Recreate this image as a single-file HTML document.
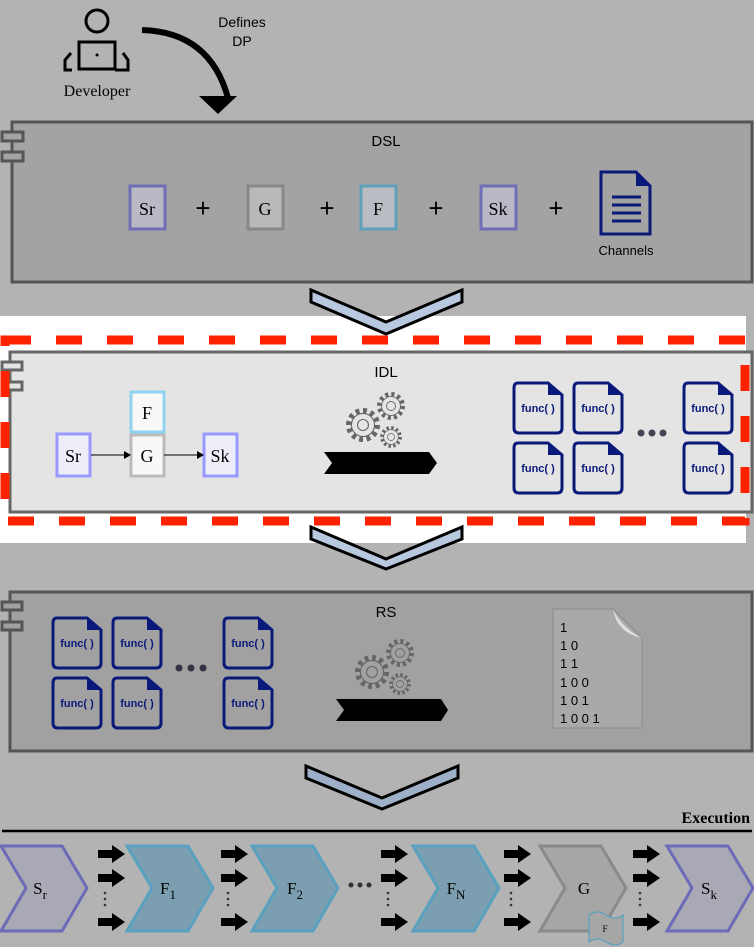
<!DOCTYPE html>
<html><head><meta charset="utf-8"><style>
html,body{margin:0;padding:0;background:#b3b3b3;}
svg{display:block;}
text{font-family:"Liberation Sans",sans-serif;}
.serif{font-family:"Liberation Serif",serif;}
</style></head><body>
<svg width="754" height="947" viewBox="0 0 754 947" xmlns="http://www.w3.org/2000/svg">
<defs>
<g id="func">
  <path d="M4,0 H34 L48,12 V45 Q48,50 43,50 H5 Q0,50 0,45 V5 Q0,0 4,0 Z" fill="none" stroke="#0a1a7a" stroke-width="3"/>
  <path d="M34,0 V12 H48 Z" fill="#0a1a7a"/>
  <text x="24" y="29" font-size="11" font-weight="bold" fill="#0a1a7a" text-anchor="middle">func( )</text>
</g>
<g id="gear">
  <circle r="13" fill="none" stroke="#666" stroke-width="5" stroke-dasharray="3.5 3.3"/>
  <circle r="10.5" fill="none" stroke="#666" stroke-width="1"/>
  <circle r="5" fill="none" stroke="#666" stroke-width="1"/>
</g>
<g id="gears">
  <use href="#gear" transform="translate(16,32) scale(1.1)"/>
  <use href="#gear" transform="translate(44,13) scale(0.9)"/>
  <use href="#gear" transform="translate(44,44) scale(0.7)"/>
</g>
<g id="arr3">
  <path d="M0,-4 H14 V-9 L27,0 L14,9 V4 H0 Z" transform="translate(0,854)"/>
  <path d="M0,-4 H14 V-9 L27,0 L14,9 V4 H0 Z" transform="translate(0,878)"/>
  <path d="M0,-4 H14 V-9 L27,0 L14,9 V4 H0 Z" transform="translate(0,922)"/>
  <circle cx="7" cy="893" r="1.3" fill="#333"/><circle cx="7" cy="899" r="1.3" fill="#333"/><circle cx="7" cy="905" r="1.3" fill="#333"/>
</g>
</defs>

<!-- Developer -->
<circle cx="97" cy="21" r="11" fill="none" stroke="#000" stroke-width="3"/>
<rect x="79" y="42" width="36" height="27" fill="none" stroke="#000" stroke-width="3"/>
<circle cx="97" cy="55" r="1.5"/>
<path d="M71,53 L65,60 V70 H72" fill="none" stroke="#000" stroke-width="3"/>
<path d="M123,53 L128,60 V70 H115" fill="none" stroke="#000" stroke-width="3"/>
<text x="97" y="96" class="serif" font-size="16" text-anchor="middle">Developer</text>
<text x="242" y="27" font-size="14" text-anchor="middle">Defines</text>
<text x="242" y="46" font-size="14" text-anchor="middle">DP</text>
<path d="M142,30 Q210,32 228,98" fill="none" stroke="#000" stroke-width="6"/>
<path d="M199,96 L218,114 L237,96 Z"/>

<!-- DSL -->
<rect x="12" y="122" width="740" height="160" fill="#a3a3a3" stroke="#555" stroke-width="3"/>
<rect x="2" y="132" width="21" height="9" fill="#a3a3a3" stroke="#555" stroke-width="3"/>
<rect x="2" y="152" width="21" height="9" fill="#a3a3a3" stroke="#555" stroke-width="3"/>
<text x="386" y="146" font-size="15" text-anchor="middle">DSL</text>
<rect x="130" y="186" width="35" height="43" fill="#b9b9c5" stroke="#6f6fb5" stroke-width="3"/>
<text x="147" y="215" class="serif" font-size="18" text-anchor="middle">Sr</text>
<rect x="248" y="186" width="35" height="43" fill="#b9b9b9" stroke="#888" stroke-width="3"/>
<text x="265" y="215" class="serif" font-size="18" text-anchor="middle">G</text>
<rect x="361" y="186" width="35" height="43" fill="#b9bcc2" stroke="#5fa0b8" stroke-width="3"/>
<text x="378" y="215" class="serif" font-size="18" text-anchor="middle">F</text>
<rect x="481" y="186" width="35" height="43" fill="#b9b9c5" stroke="#6f6fb5" stroke-width="3"/>
<text x="498" y="215" class="serif" font-size="18" text-anchor="middle">Sk</text>
<g font-size="26" text-anchor="middle"><text x="203" y="217">+</text><text x="327" y="217">+</text><text x="436" y="217">+</text><text x="556" y="217">+</text></g>
<path d="M601,172 H636 L650,186 V234 H601 Z" fill="none" stroke="#0a1a7a" stroke-width="3"/>
<path d="M636,172 V186 H650 Z" fill="#0a1a7a"/>
<g stroke="#0a1a7a" stroke-width="3"><line x1="612" y1="197" x2="641" y2="197"/><line x1="612" y1="205" x2="641" y2="205"/><line x1="612" y1="213" x2="641" y2="213"/><line x1="612" y1="221" x2="641" y2="221"/></g>
<text x="626" y="255" font-size="13" text-anchor="middle">Channels</text>

<!-- white region -->
<rect x="0" y="316" width="746" height="227" fill="#fff"/>
<path d="M311,290 L386,322 L462,290 L462,302 L386,334 L311,302 Z" fill="#b8c8de" stroke="#000" stroke-width="3"/>

<!-- IDL -->
<rect x="10" y="352" width="742" height="160" fill="#e4e4e4" stroke="#666" stroke-width="3"/>
<rect x="2" y="362" width="20" height="8" fill="#e4e4e4" stroke="#666" stroke-width="3"/>
<rect x="2" y="382" width="20" height="8" fill="#e4e4e4" stroke="#666" stroke-width="3"/>
<rect x="5" y="340" width="740" height="181" fill="none" stroke="#ff2200" stroke-width="9" stroke-dasharray="26 25"/>
<text x="386" y="377" font-size="15" text-anchor="middle">IDL</text>
<rect x="131" y="392" width="33" height="40" fill="#f8f8f8" stroke="#8fd3ee" stroke-width="3"/>
<text x="147" y="419" class="serif" font-size="18" text-anchor="middle">F</text>
<rect x="131" y="435" width="33" height="41" fill="#f8f8f8" stroke="#bbb" stroke-width="3"/>
<text x="147" y="462" class="serif" font-size="18" text-anchor="middle">G</text>
<rect x="57" y="434" width="33" height="42" fill="#eeeef8" stroke="#9999ff" stroke-width="3"/>
<text x="73" y="462" class="serif" font-size="18" text-anchor="middle">Sr</text>
<rect x="204" y="434" width="33" height="42" fill="#eeeef8" stroke="#9999ff" stroke-width="3"/>
<text x="220" y="462" class="serif" font-size="18" text-anchor="middle">Sk</text>
<line x1="91" y1="455" x2="124" y2="455" stroke="#000"/><path d="M124,451 L131,455 L124,459 Z"/>
<line x1="164" y1="455" x2="197" y2="455" stroke="#000"/><path d="M197,451 L204,455 L197,459 Z"/>
<use href="#gears" transform="translate(347,393)"/>
<path d="M324,452 H429 L437,463 L429,474 H324 L332,463 Z"/>
<use href="#func" transform="translate(514,383)"/><use href="#func" transform="translate(574,383)"/><use href="#func" transform="translate(684,383)"/>
<use href="#func" transform="translate(514,443)"/><use href="#func" transform="translate(574,443)"/><use href="#func" transform="translate(684,443)"/>
<g fill="#445"><circle cx="641" cy="433" r="3.5"/><circle cx="652" cy="433" r="3.5"/><circle cx="663" cy="433" r="3.5"/></g>

<!-- chevron 2 -->
<path d="M311,527 L386,559 L462,527 L462,539 L386,569 L311,539 Z" fill="#b8c8de" stroke="#000" stroke-width="3"/>

<!-- RS -->
<rect x="10" y="592" width="742" height="159" fill="#a1a1a1" stroke="#555" stroke-width="3"/>
<rect x="2" y="602" width="20" height="8" fill="#a1a1a1" stroke="#555" stroke-width="3"/>
<rect x="2" y="622" width="20" height="8" fill="#a1a1a1" stroke="#555" stroke-width="3"/>
<text x="386" y="617" font-size="15" text-anchor="middle">RS</text>
<use href="#func" transform="translate(53,618)"/><use href="#func" transform="translate(113,618)"/><use href="#func" transform="translate(224,618)"/>
<use href="#func" transform="translate(53,678)"/><use href="#func" transform="translate(113,678)"/><use href="#func" transform="translate(224,678)"/>
<g fill="#334"><circle cx="179" cy="668" r="3.5"/><circle cx="191" cy="668" r="3.5"/><circle cx="203" cy="668" r="3.5"/></g>
<use href="#gears" transform="translate(356,640)"/>
<path d="M336,699 H441 L448,710 L441,721 H336 L344,710 Z"/>
<path d="M553,609 H613 L642,638 V728 H553 Z" fill="#a9a9a9" stroke="#8a8a8a" stroke-width="1"/>
<path d="M613,609 Q617,633 642,638 Q622,628 613,609 Z" fill="#ddd"/>
<g font-size="13" fill="#000"><text x="560" y="632">1</text><text x="560" y="650">1 0</text><text x="560" y="668">1 1</text><text x="560" y="687">1 0 0</text><text x="560" y="705">1 0 1</text><text x="560" y="723">1 0 0 1</text></g>

<!-- chevron 3 -->
<path d="M306,766 L382,798 L458,766 L458,778 L382,809 L306,778 Z" fill="#9eb0c8" stroke="#000" stroke-width="3"/>

<!-- Execution -->
<text x="750" y="823" class="serif" font-size="16" font-weight="bold" text-anchor="end">Execution</text>
<line x1="2" y1="831" x2="752" y2="831" stroke="#000" stroke-width="2.5"/>

<!-- bottom chevrons -->
<path d="M1,846 H62 L87,888 L62,931 H1 L26,888 Z" fill="#a9a9b5" stroke="#6b6bb8" stroke-width="3"/>
<text x="40" y="894" class="serif" font-size="17" text-anchor="middle">S<tspan font-size="13" dy="5">r</tspan></text>
<path d="M127,846 H188 L213,888 L188,931 H127 L152,888 Z" fill="#7b9fb0" stroke="#5aa0bf" stroke-width="3"/>
<text x="168" y="894" class="serif" font-size="17" text-anchor="middle">F<tspan font-size="13" dy="5">1</tspan></text>
<path d="M252,846 H313 L338,888 L313,931 H252 L277,888 Z" fill="#7b9fb0" stroke="#5aa0bf" stroke-width="3"/>
<text x="295" y="894" class="serif" font-size="17" text-anchor="middle">F<tspan font-size="13" dy="5">2</tspan></text>
<path d="M413,846 H474 L499,888 L474,931 H413 L438,888 Z" fill="#7b9fb0" stroke="#5aa0bf" stroke-width="3"/>
<text x="456" y="894" class="serif" font-size="17" text-anchor="middle">F<tspan font-size="13" dy="5">N</tspan></text>
<path d="M540,846 H601 L626,888 L601,931 H540 L565,888 Z" fill="#a6a6a6" stroke="#8a8a8a" stroke-width="3"/>
<text x="584" y="894" class="serif" font-size="17" text-anchor="middle">G</text>
<path d="M667,846 H728 L753,888 L728,931 H667 L692,888 Z" fill="#a9a9b5" stroke="#6b6bb8" stroke-width="3"/>
<text x="709" y="894" class="serif" font-size="17" text-anchor="middle">S<tspan font-size="13" dy="5">k</tspan></text>
<path d="M589,915 Q598,909 606,915 Q615,921 623,915 V942 Q615,948 606,942 Q598,936 589,942 Z" fill="#a6a6a6" stroke="#5aa0bf" stroke-width="1.2"/>
<text x="605" y="932" class="serif" font-size="9" text-anchor="middle">F</text>
<use href="#arr3" transform="translate(98,0)"/>
<use href="#arr3" transform="translate(221,0)"/>
<use href="#arr3" transform="translate(381,0)"/>
<use href="#arr3" transform="translate(504,0)"/>
<use href="#arr3" transform="translate(633,0)"/>
<g fill="#333"><circle cx="351" cy="885" r="2.5"/><circle cx="360" cy="885" r="2.5"/><circle cx="369" cy="885" r="2.5"/></g>
</svg>
</body></html>
